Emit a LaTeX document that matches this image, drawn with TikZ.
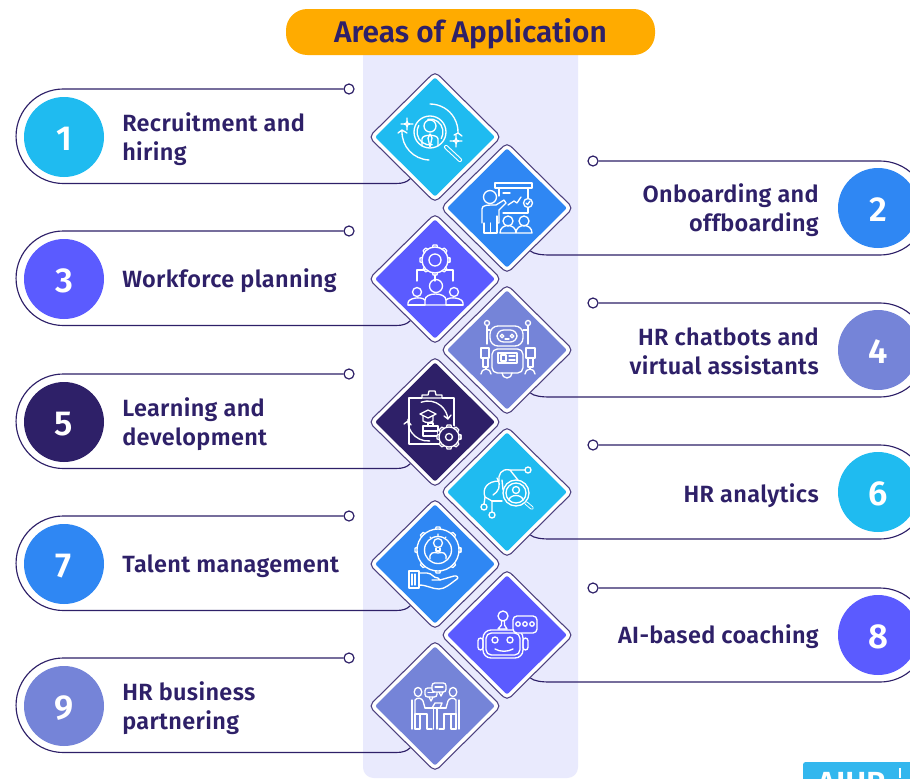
\documentclass[tikz,border=0pt]{standalone}
\usepackage{fontspec}
\setmainfont{Fira Sans}[BoldFont={Fira Sans SemiBold}]
\usetikzlibrary{shapes.geometric,calc}
\definecolor{navy}{HTML}{2E2068}
\definecolor{cA}{HTML}{1FBBF0}
\definecolor{cB}{HTML}{2F87F3}
\definecolor{cC}{HTML}{5B5BFF}
\definecolor{cD}{HTML}{7584D8}
\definecolor{panel}{HTML}{E9EAFD}
\definecolor{amber}{HTML}{FFAB00}
\definecolor{logo}{HTML}{33B7EE}
\tikzset{
  outerdia/.style={shape=diamond,aspect=1,minimum width=99.5pt,minimum height=98.5pt,inner sep=0pt,fill=white,draw=navy!85,line width=.8pt,rounded corners=4pt},
  innerdia/.style={shape=diamond,aspect=1,minimum width=90pt,minimum height=89.5pt,inner sep=0pt,rounded corners=1.5pt},
  numc/.style={circle,minimum size=60pt,inner sep=0pt,text=white,text height=19.5pt,text depth=0pt,font=\fontsize{26}{26}\selectfont\bfseries},
  dotn/.style={circle,minimum size=7.5pt,inner sep=0pt,fill=white,draw=navy,line width=.9pt},
  conn/.style={draw=navy,line width=.85pt},
  lab/.style={inner sep=0pt,text=navy,font=\fontsize{17.6}{21.75}\selectfont\bfseries\addfontfeatures{LetterSpace=1.5}},
  ic/.style={draw=white,line width=1pt,line cap=round,line join=round},
}
\newcommand{\leftitem}[4]{% index, y, colour, text
  \node[outerdia] (d#1) at (435,#2) {};
  \node[innerdia,fill=#3] (i#1) at (d#1) {};
  \node[numc,fill=#3] (n#1) at (64,#2) {#1};
  \node[dotn] (k#1) at (349,#2-48) {};
  \node[lab,anchor=west,align=left] (t#1) at (122,#2+2) {#4};
  \draw[conn] (k#1.west) -- (63.3,#2-48) arc (270:90:47.25) -- (396,#2+46.5) .. controls (403,#2+46.5) and (407,#2+45) .. ($(d#1.south)!0.37!(d#1.west)$);
}
\newcommand{\rightitem}[5]{% index, y, colour, text, text shift
  \node[outerdia] (d#1) at (507,#2) {};
  \node[innerdia,fill=#3] (i#1) at (d#1) {};
  \node[numc,fill=#3] (n#1) at (878,#2) {#1};
  \node[dotn] (k#1) at (593,#2-47) {};
  \node[lab,anchor=east,align=right] (t#1) at (819,#2+#5) {#4};
  \draw[conn] (k#1.east) -- (880,#2-47) arc (-90:90:47) -- (550,#2+47) .. controls (541,#2+47) and (534,#2+46) .. ($(d#1.south)!0.35!(d#1.east)$);
}
\newcommand{\spk}[3]{\draw[ic] (#1,#2-#3) .. controls (#1,#2) .. (#1+#3,#2) .. controls (#1,#2) .. (#1,#2+#3) .. controls (#1,#2) .. (#1-#3,#2) .. controls (#1,#2) .. cycle;}
\newcommand{\gearic}[6]{% x y r inner colour teeth
  \fill[#5] (#1,#2) circle (#3);
  \draw[ic] (#1,#2) circle (#3-2);
  \foreach \a in {0,1,...,#6}{\pgfmathsetmacro{\ang}{\a*360/#6}
    \draw[ic,shift={(#1,#2)},rotate=\ang] (#3-2,-2.5) -- (#3,-1.8) -- (#3,1.8) -- (#3-2,2.5);}
  \draw[ic] (#1,#2) circle (#4);
}
\begin{document}
\begin{tikzpicture}[x=.75pt,y=.75pt,yscale=-1]
\useasboundingbox (0,0) rectangle (910,778);
\clip (0,0) rectangle (910,778);
\fill[white] (0,0) rectangle (910,778);
\fill[panel,rounded corners=8pt] (363,30) rectangle (578,778);
\node[draw=none,fill=amber,rounded corners=16pt,minimum width=276.75pt,minimum height=34.5pt,inner sep=0pt,text=navy,text height=17.5pt,text depth=1.5pt,font=\fontsize{22.4}{24}\selectfont\bfseries] (title) at (470.5,32) {Areas of Application};

\leftitem{1}{137}{cA}{Recruitment and\\hiring}
\rightitem{2}{208}{cB}{Onboarding and\\offboarding}{2}
\leftitem{3}{279}{cC}{Workforce planning}
\rightitem{4}{350}{cD}{HR chatbots and\\virtual assistants}{1}
\leftitem{5}{422}{navy}{Learning and\\development}
\rightitem{6}{492}{cA}{HR analytics}{4}
\leftitem{7}{564}{cB}{Talent management}
\rightitem{8}{635}{cC}{AI-based coaching}{2}
\leftitem{9}{706}{cD}{HR business\\partnering}

% logo
\fill[logo,rounded corners=2pt] (803,762) rectangle (930,800);
\draw[white,line width=.8pt] (900,768) -- (900,778);
\node[anchor=north west,inner sep=0pt,text=white,font=\fontsize{24}{24}\selectfont\bfseries] (aihr) at (817,772) {AIHR};

% icon 1
\begin{scope}[shift={(d1.center)}]
  \draw[ic] (-5,-5) circle (16);
  \draw[ic] (-5,-11) circle (6);
  \draw[ic] (-13,9) -- (-13,2) .. controls (-13,-3) and (3,-3) .. (3,2) -- (3,9);
  \draw[ic] (-5,-3) -- (-7,1) -- (-5,10) -- (-3,1) -- cycle;
  \draw[ic] (-5,-5) ++(-100:13) arc (-100:30:13);
  \draw[ic] (-5,-5) ++(80:13) arc (80:210:13);
  \draw[ic,double=cA,double distance=1.6pt,line width=.8pt] (11,10) -- (25,23);
  \draw[ic] (-5,-5) ++(-90:28) arc (-90:2:28) (19,-2) -- (23,-4) (23,-4) -- (27,-1);
  \draw[ic] (-5,-5) ++(92:28) arc (92:182:28) (-37,-4) -- (-33,-7) -- (-28,-4);
  \spk{-28}{-13}{6}
  \spk{21}{4}{6}
\end{scope}
% icon 2
\begin{scope}[shift={(d2.center)}]
  \draw[ic] (-12,-25) rectangle (25,-20);
  \draw[ic] (-8,-20) -- (-8,-12) (21,-20) -- (21,-10) (21,0) -- (21,5) -- (-4,5);
  \draw[ic] (-4,-15) -- (3,-15);
  \draw[ic] (1,-3) -- (7,-7) -- (10,-5) -- (14,-11);
  \draw[ic] (21,-5) circle (4.5);
  \draw[ic] (19,-5) -- (20.5,-3.5) -- (23,-7);
  \draw[ic] (-17,-11) circle (6.5);
  \draw[ic] (-25,15) -- (-25,1) .. controls (-25,-3) and (-20,-3) .. (-11,-3) -- (-3,-8) -- (-1,-5) -- (-8,2) -- (-8,15) -- (-10,15);
  \draw[ic] (-23,15) -- (-23,25) -- (-10,25) -- (-10,8) (-16.5,15) -- (-16.5,25);
  \draw[ic] (1,13) circle (5) (17,13) circle (5);
  \draw[ic] (-7,25) .. controls (-7,15) and (9,15) .. (9,25) .. controls (9,15) and (25,15) .. (25,25) -- cycle;
\end{scope}
% icon 3
\begin{scope}[shift={(d3.center)}]
  \gearic{0}{-19}{15}{6}{cC}{8}
  \draw[ic] (-18,2) -- (-18,-9) -- (-10,-9) (18,2) -- (18,-9) -- (10,-9);
  \draw[ic] (0,-4) -- (0,2);
  \draw[ic] (1,7) circle (6.5);
  \draw[ic] (-10,26) -- (-10,21) .. controls (-10,13) and (11,13) .. (11,21) -- (11,26) -- cycle;
  \draw[ic] (-18,13) circle (4.5) (19,13) circle (4.5);
  \draw[ic] (-27,26) -- (-27,24) .. controls (-27,19) and (-14,17) .. (-10,21);
  \draw[ic] (28,26) -- (28,24) .. controls (28,19) and (15,17) .. (11,21);
  \draw[ic] (-27,26) -- (-10,26) (11,26) -- (28,26);
\end{scope}
% icon 4
\begin{scope}[shift={(d4.center)}]
  \draw[ic,rounded corners=6pt] (-17,-24) rectangle (16,-4);
  \draw[ic,rounded corners=5pt] (-10,-20) rectangle (10,-8);
  \draw[ic] (-5,-14) circle (1.8) (5,-14) circle (1.8);
  \draw[ic] (-2,-11) -- (2,-11);
  \draw[ic] (-20,-27) circle (2.5) (21,-27) circle (2.5);
  \draw[ic] (-20,-24.5) -- (-20,-6) (21,-24.5) -- (21,-6);
  \draw[ic] (-20,-20) -- (-17,-20) (21,-20) -- (16,-20);
  \draw[ic,rounded corners=4pt] (-15,-1) rectangle (16,23);
  \draw[ic] (-9,3) rectangle (10,13);
  \draw[ic] (-6,5) rectangle (-1,11);
  \draw[ic] (2,6) -- (8,6) (2,10) -- (8,10);
  \draw[ic] (-5,23) arc (180:0:5);
  \draw[ic] (-26,-2) rectangle (-18,8) (19,-2) rectangle (28,8);
  \draw[ic] (-24,8) rectangle (-19,17) (21,8) rectangle (26,17);
  \draw[ic] (-26,24) arc (180:360:5) (18,24) arc (180:360:5);
  \draw[ic] (-21,17) -- (-21,19) (23,17) -- (23,19);
\end{scope}
% icon 5
\begin{scope}[shift={(d5.center)}]
  \draw[ic] (-26,-24) rectangle (19,22);
  \fill[navy] (-13,-28) rectangle (7,-22);
  \draw[ic] (-13,-24) -- (-13,-27) -- (-7,-27) -- (-6,-31) -- (0,-31) -- (1,-27) -- (7,-27) -- (7,-24) -- cycle;
  \draw[ic] (-15,-8) -- (-7,-12) -- (1,-8) -- (-7,-4) -- cycle;
  \draw[ic] (-12,-6) -- (-12,-1) .. controls (-9,1) and (-5,1) .. (-2,-1) -- (-2,-6);
  \draw[ic] (-12,4) rectangle (3,14);
  \draw[ic] (-7,4) -- (-7,1) -- (-2,1) -- (-2,4) (-12,9) -- (3,9);
  \draw[ic] (-7,-1) ++(-110:20) arc (-110:-5:20) (9,-6) -- (13,-3) -- (16,-7);
  \draw[ic] (-7,-1) ++(85:20) arc (85:185:20) (-31,2) -- (-27,-1) -- (-24,3);
  \gearic{14}{15}{12}{3.5}{navy}{8}
\end{scope}
% icon 6
\begin{scope}[shift={(d6.center)}]
  \draw[ic] (9,1) circle (13) (9,1) circle (10);
  \draw[ic] (9,-2) circle (3.5);
  \draw[ic] (2,8) .. controls (3,2) and (15,2) .. (16,8);
  \draw[ic,double=cA,double distance=1.4pt,line width=.7pt] (19,11) -- (25,16);
  \draw[ic] (21,-22) circle (3) (-23,15) circle (3) (-15,23) circle (3);
  \draw[ic] (18,-22) -- (3,-22) -- (11,-12);
  \draw[ic] (3,-22) .. controls (-6,-24) and (-9,-17) .. (-8,-11);
  \draw[ic] (-8,-11) .. controls (-20,-11) and (-25,-3) .. (-22,5) -- (-23,12);
  \draw[ic] (-10,-14) .. controls (-5,-6) and (-9,0) .. (-14,3);
  \draw[ic] (-22,5) -- (-15,9) -- (-15,20);
  \draw[ic] (-15,9) -- (-5,9);
  \draw[ic] (-5,-12) -- (-4,-2);
\end{scope}
% icon 7
\begin{scope}[shift={(d7.center)}]
  \gearic{3}{-14}{23}{13.5}{cB}{8}
  \draw[ic] (3,-21) circle (4.5);
  \draw[ic] (1,-16) -- (1,-13) -- (5,-13) -- (5,-16);
  \draw[ic] (-5,-5) .. controls (-6,-12) and (-1,-12) .. (3,-11) .. controls (7,-12) and (12,-12) .. (11,-5);
  \draw[ic] (3,-30) -- (3,-28) (-5,-27) -- (-4,-26) (11,-27) -- (10,-26);
  \draw[ic] (-26,7) rectangle (-16,24);
  \draw[ic] (-23,10) -- (-23,21) (-20,10) -- (-20,21);
  \draw[ic] (-16,9) -- (-8,9) .. controls (-3,9) and (-2,14) .. (3,14) -- (5,16) -- (-3,16);
  \draw[ic] (5,16) -- (19,12) .. controls (22,11) and (24,14) .. (22,15) .. controls (15,20) and (10,25) .. (4,25) .. controls (-3,25) and (-8,21) .. (-16,21);
\end{scope}
% icon 8
\begin{scope}[shift={(d8.center)}]
  \draw[ic,rounded corners=6pt] (-24,-5) rectangle (16,23);
  \draw[ic,rounded corners=4pt] (-21,-2) rectangle (13,20);
  \draw[ic,rounded corners=2pt] (-29,3) rectangle (-24,15) (16,3) rectangle (21,15);
  \draw[ic] (-4,-19) circle (5);
  \draw[ic] (-5.5,-14) -- (-5.5,-10) -- (-9,-6) -- (0,-6) -- (-2.5,-10) -- (-2.5,-14);
  \draw[ic] (-12,5) circle (3) (3,5) circle (3);
  \draw[ic] (-12,14) .. controls (-7,17) and (1,17) .. (6,14);
  \fill[cC,rounded corners=3pt] (6,-19) rectangle (30,-2);
  \draw[ic,rounded corners=3pt] (6,-19) rectangle (30,-2);
  \draw[ic] (11,-11) circle (2.2) (18,-11) circle (2.2) (25,-11) circle (2.2);
\end{scope}
% icon 9
\begin{scope}[shift={(d9.center)}]
  \draw[ic] (-17,-14) ellipse (3.8 and 4.6) (18,-14) ellipse (3.8 and 4.6);
  \draw[ic] (-23,-6) -- (-23,23) (24,-6) -- (24,23);
  \draw[ic] (-20,23) -- (-20,8) (21,23) -- (21,8);
  \draw[ic] (-20,8) -- (-20,-6) .. controls (-18,-9) and (-13,-8) .. (-12,-5) -- (-10,2);
  \draw[ic] (21,8) -- (21,-6) .. controls (19,-9) and (14,-8) .. (13,-5) -- (11,2);
  \draw[ic] (-20,8) -- (-8,8) -- (-8,23) -- (-3,23) (-15,8) -- (-15,23) (-20,23) -- (-15,23);
  \draw[ic] (21,8) -- (9,8) -- (9,23) -- (4,23) (16,8) -- (16,23) (21,23) -- (16,23);
  \draw[ic] (-10,2) -- (11,2);
  \draw[ic] (-1.5,2) -- (-1.5,23) (2,2) -- (2,23);
  \draw[ic] (-3,2) -- (0,-3) -- (7,-3) -- (5,2);
  \fill[cD,rounded corners=2pt] (-10,-18) rectangle (2,-9);
  \draw[ic,rounded corners=2pt] (-10,-18) rectangle (2,-9);
  \draw[ic] (-6,-9) -- (-4,-5) -- (-2,-9);
  \draw[ic] (-7,-13.5) -- (-1,-13.5);
  \fill[cD,rounded corners=2pt] (-3,-23) rectangle (11,-14);
  \draw[ic,rounded corners=2pt] (-3,-23) rectangle (11,-14);
  \draw[ic] (4,-14) -- (6,-10) -- (8,-14);
  \draw[ic] (0,-19) -- (8,-19);
\end{scope}
\end{tikzpicture}
\end{document}
